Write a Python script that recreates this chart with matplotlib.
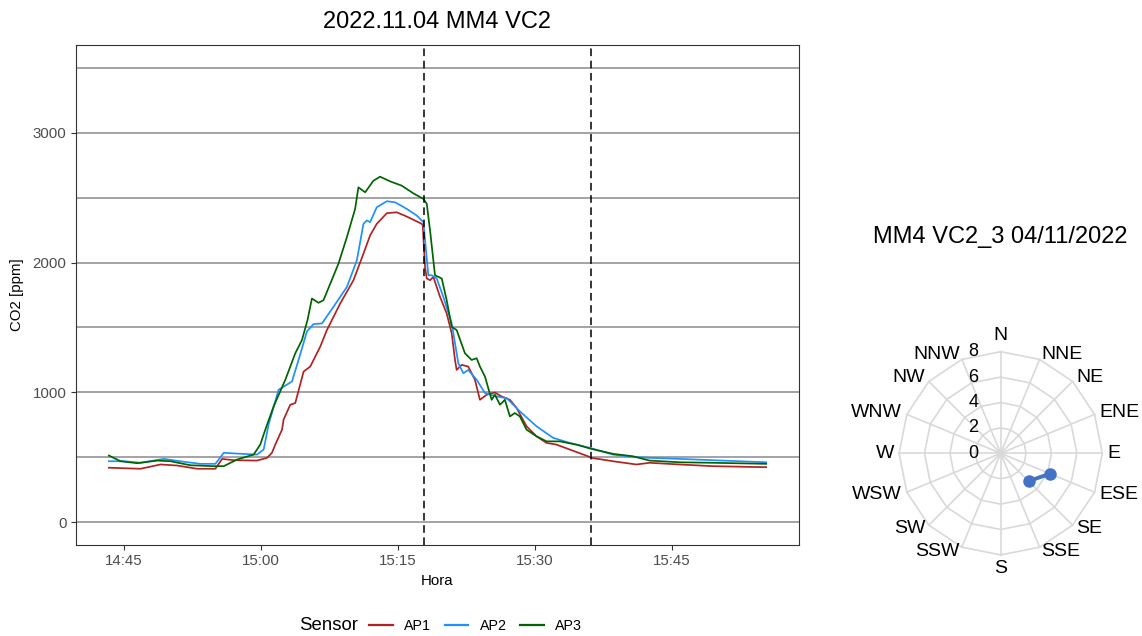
import numpy as np
import pandas as pd
import matplotlib
matplotlib.use("Agg")
import matplotlib.pyplot as plt
import matplotlib.dates as mdates
from matplotlib.lines import Line2D

plt.rcParams['font.family'] = ['Liberation Sans', 'DejaVu Sans']

# ==============================================
# Data (minutes after 14:00, CO2 ppm)
# ==============================================
day = "2022-11-04 14:00"

ap1_min = [43.36, 46.82, 49.01, 50.83, 53.02, 55.02, 55.75, 57.02, 59.57, 60.67,
           61.21, 61.57, 62.31, 62.48, 63.21, 63.76, 64.67, 65.40, 66.49, 67.22,
           67.77, 68.68, 70.13, 71.22, 71.95, 72.68, 73.78, 74.87, 75.96, 77.60,
           77.71, 77.96, 78.15, 78.51, 78.87, 79.60, 80.33, 80.88, 81.24, 81.42,
           81.97, 82.69, 83.42, 83.97, 84.70, 85.61, 86.34, 87.25, 87.98, 89.07,
           90.16, 91.26, 92.35, 93.80, 95.80, 96.17, 98.53, 101.09, 102.54, 105.82,
           109.46, 115.29]
ap1_ppm = [420, 412, 445, 437, 412, 412, 488, 478, 475, 496,
           535, 598, 713, 790, 905, 918, 1160, 1199, 1352, 1480,
           1557, 1685, 1864, 2068, 2209, 2298, 2380, 2387, 2354, 2298,
           2285, 1966, 1877, 1864, 1889, 1736, 1608, 1455, 1250, 1173,
           1212, 1199, 1097, 943, 982, 999, 969, 943, 880, 739,
           662, 611, 598, 560, 508, 496, 470, 445, 458, 445,
           432, 424]

ap2_min = [43.36, 45.00, 46.82, 49.37, 51.56, 53.38, 55.02, 55.93, 57.39, 59.57,
           60.30, 60.84, 61.93, 63.40, 64.12, 65.04, 65.76, 66.68, 67.94, 69.41,
           70.50, 71.22, 71.59, 71.95, 72.68, 73.78, 74.68, 75.96, 77.05, 77.78,
           78.32, 78.69, 79.24, 79.96, 80.88, 81.60, 82.15, 82.69, 83.61, 84.52,
           85.79, 86.89, 88.34, 90.16, 91.98, 93.80, 95.99, 98.53, 100.72, 102.54,
           105.82, 109.46, 115.29]
ap2_ppm = [470, 470, 458, 488, 466, 450, 450, 535, 529, 521,
           560, 752, 1020, 1084, 1250, 1470, 1526, 1531, 1659, 1812,
           2017, 2298, 2324, 2311, 2426, 2472, 2464, 2413, 2362, 2311,
           1902, 1902, 1877, 1736, 1531, 1225, 1148, 1173, 1097, 995,
           969, 956, 854, 739, 650, 611, 573, 521, 504, 496,
           488, 478, 462]

ap3_min = [43.36, 44.64, 46.46, 48.65, 50.10, 52.29, 54.83, 55.93, 57.39, 59.20,
           59.93, 60.48, 61.39, 62.67, 63.76, 64.49, 65.10, 65.58, 66.30, 66.85,
           68.49, 69.41, 70.31, 70.67, 71.41, 72.31, 73.04, 74.14, 75.41, 76.68,
           77.78, 78.15, 78.51, 79.05, 79.79, 80.33, 80.88, 81.42, 82.33, 83.06,
           83.61, 83.97, 84.52, 84.88, 85.25, 85.61, 86.16, 86.70, 87.25, 87.79,
           88.34, 89.07, 90.16, 91.26, 92.71, 94.53, 96.17, 98.53, 100.72, 102.54,
           105.82, 109.46, 115.29]
ap3_ppm = [514, 470, 455, 475, 470, 439, 432, 432, 483, 521,
           598, 713, 892, 1097, 1301, 1403, 1557, 1723, 1690, 1710,
           1992, 2196, 2413, 2579, 2541, 2630, 2661, 2625, 2592, 2533,
           2490, 2452, 2247, 1902, 1877, 1710, 1505, 1480, 1301, 1250,
           1263, 1199, 1122, 1033, 943, 982, 905, 943, 815, 841,
           815, 713, 662, 623, 623, 598, 565, 527, 508, 475,
           462, 458, 450]

sensors = ["AP1", "AP2", "AP3"]
sensor_colors = ["#B22222", "#1E90FF", "#006400"]

hline_ppm = [0, 500, 1000, 1500, 2000, 2500, 3000, 3500]
y_ticks = [0, 1000, 2000, 3000]
vline_times = ["15:17:48", "15:36:09"]

# wind rose
dir_labels = ["N", "NNE", "NE", "ENE", "E", "ESE", "SE", "SSE",
              "S", "SSW", "SW", "WSW", "W", "WNW", "NW", "NNW"]
radial_ticks = [0, 2, 4, 6, 8]
wind_dirs = ["ESE", "SE"]
wind_vals = [4.2, 3.1]


def to_time(mins):
    return (pd.Timestamp(day) + pd.to_timedelta(mins, unit="m")).to_numpy()


# ==============================================
# Figure
# ==============================================
W, H = 1142, 636
fig = plt.figure(figsize=(W / 100, H / 100), dpi=100)

ax = fig.add_axes([76 / W, 91 / H, 723 / W, 500 / H])

for h in hline_ppm:
    ax.axhline(h, color="#8a8a8a", lw=1.1, zorder=1)

series = [(ap1_min, ap1_ppm), (ap2_min, ap2_ppm), (ap3_min, ap3_ppm)]
for (m, v), name, col in zip(series, sensors, sensor_colors):
    ax.plot(to_time(m), v, color=col, lw=1.25, label=name, zorder=2)

for vt in vline_times:
    ax.axvline(pd.Timestamp(day[:10] + " " + vt), color="black", lw=1.1,
               linestyle=(0, (5, 3)), zorder=3)

# limits like ggplot (5% expansion)
all_min = ap1_min + ap2_min + ap3_min
span = max(all_min) - min(all_min)
ax.set_xlim(to_time(min(all_min) - 0.05 * span), to_time(max(all_min) + 0.05 * span))
yspan = max(hline_ppm) - min(hline_ppm)
ax.set_ylim(min(hline_ppm) - 0.05 * yspan, max(hline_ppm) + 0.05 * yspan)

ax.xaxis.set_major_locator(mdates.MinuteLocator(byminute=[0, 15, 30, 45]))
ax.xaxis.set_major_formatter(mdates.DateFormatter("%H:%M"))
ax.set_yticks(y_ticks)
ax.tick_params(length=3.4, width=0.8, color="#333333", labelcolor="#4d4d4d",
               labelsize=10.8, pad=3.4)
for s in ax.spines.values():
    s.set_color("#333333")
    s.set_linewidth(0.8)

ax.set_xlabel("Hora", fontsize=10.8, labelpad=4)
ax.set_ylabel("CO2 [ppm]", fontsize=10.8, labelpad=6)
fig.text(437.5 / W, 1 - 22 / H, "2022.11.04 MM4 VC2", fontsize=17,
         ha="center", va="center")

# legend at bottom
fig.text(299 / W, 1 - 626 / H, "Sensor", fontsize=13.4, ha="left", va="center")
handles = [Line2D([], [], color=c, lw=1.6) for c in sensor_colors]
fig.legend(handles, sensors, loc="center left", bbox_to_anchor=(369 / W, 1 - 626 / H),
           ncol=3, frameon=False, fontsize=10.3, handlelength=1.65,
           handletextpad=0.8, columnspacing=0.95, borderpad=0, borderaxespad=0)

# ==============================================
# Wind rose (radar)
# ==============================================
cx, cy, R = 1000.7, 453.3, 101.6
rax = fig.add_axes([(cx - R) / W, (H - cy - R) / H, 2 * R / W, 2 * R / H],
                   projection="polar")
rax.set_theta_zero_location("N")
rax.set_theta_direction(-1)
rax.set_ylim(0, max(radial_ticks))
rax.axis("off")

angles = np.deg2rad(np.arange(len(dir_labels)) * 360 / len(dir_labels))
closed = np.append(angles, angles[0])
for r in radial_ticks[1:]:
    rax.plot(closed, [r] * len(closed), color="#d9d9d9", lw=1.2, clip_on=False)
for a in angles:
    rax.plot([a, a], [0, max(radial_ticks)], color="#d9d9d9", lw=1.2, clip_on=False)

for a, lab in zip(angles, dir_labels):
    deg = np.rad2deg(a)
    if deg == 0:
        rax.text(a, 8.6, lab, ha="center", va="bottom", fontsize=14)
    elif deg == 180:
        rax.text(a, 8.4, lab, ha="center", va="top", fontsize=14)
    else:
        ha = "left" if deg < 180 else "right"
        rax.text(a, 8.4, lab, ha=ha, va="center", fontsize=14)

for r in radial_ticks:
    rax.annotate(str(r), xy=(0, r), xytext=(-27.5, 0), textcoords="offset pixels",
                 ha="center", va="center", fontsize=13)

wind_theta = [angles[dir_labels.index(d)] for d in wind_dirs]
rax.plot(wind_theta, wind_vals, color="#4472C4", lw=2.8, marker="o", ms=8,
         clip_on=False, zorder=5)

fig.text(cx / W, 1 - 237 / H, "MM4 VC2_3 04/11/2022", fontsize=17,
         ha="center", va="center")

fig.savefig("out.png", dpi=100)
